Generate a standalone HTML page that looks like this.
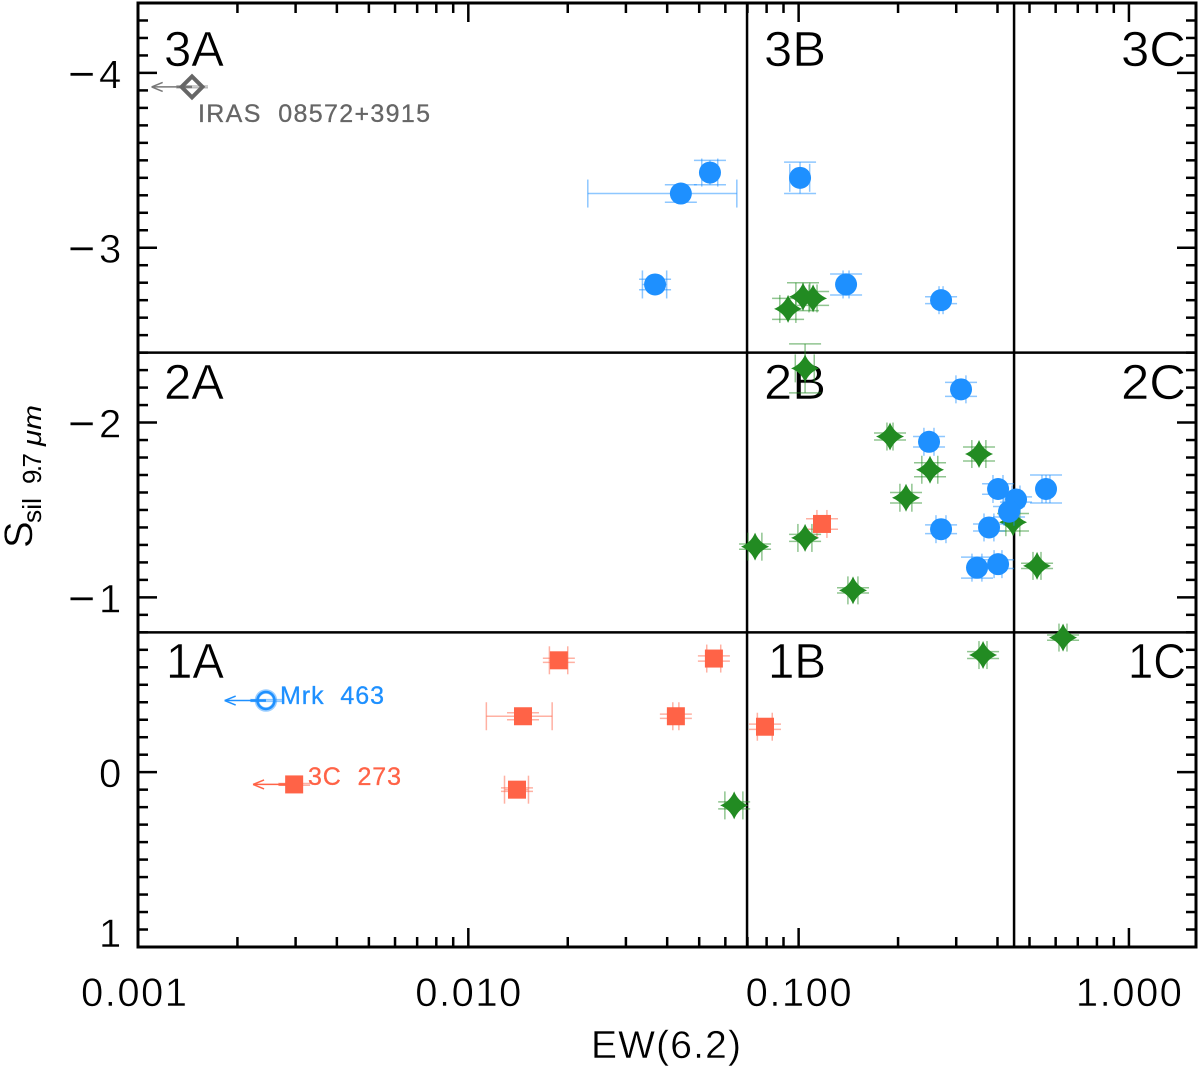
<!DOCTYPE html>
<html lang="en">
<head>
<meta charset="utf-8">
<title>Silicate strength versus EW(6.2)</title>
<style>
html,body{margin:0;padding:0;background:#fff;}
svg{display:block;font-family:"Liberation Sans",sans-serif;}
text{white-space:pre;}
</style>
</head>
<body>
<svg id="chart" xmlns="http://www.w3.org/2000/svg" width="1200" height="1069" viewBox="0 0 1200 1069">
  <rect x="0" y="0" width="1200" height="1069" fill="#fff"/>
  <g id="grid"></g>
  <g font-size="49" fill="#000" stroke="#fff" stroke-width="0.6">
    <text x="164" y="66" textLength="60" lengthAdjust="spacingAndGlyphs">3A</text>
    <text x="764" y="66" textLength="62" lengthAdjust="spacingAndGlyphs">3B</text>
    <text x="1121" y="66" textLength="65" lengthAdjust="spacingAndGlyphs">3C</text>
    <text x="164" y="399" textLength="60" lengthAdjust="spacingAndGlyphs">2A</text>
    <text x="764" y="399" textLength="62" lengthAdjust="spacingAndGlyphs">2B</text>
    <text x="1121" y="399" textLength="65" lengthAdjust="spacingAndGlyphs">2C</text>
    <text x="166" y="678" textLength="58" lengthAdjust="spacingAndGlyphs">1A</text>
    <text x="768" y="678" textLength="58" lengthAdjust="spacingAndGlyphs">1B</text>
    <text x="1128" y="678" textLength="58" lengthAdjust="spacingAndGlyphs">1C</text>
  </g>
  <g id="marks"></g>
  <g id="axes"></g>
  <g font-size="25">
    <text x="198" y="122" fill="#666" stroke="#666" stroke-width="0.3" textLength="232" lengthAdjust="spacing">IRAS  08572+3915</text>
    <text x="280" y="704" fill="#1E90FF" stroke="#1E90FF" stroke-width="0.3" textLength="104" lengthAdjust="spacing">Mrk  463</text>
    <text x="308" y="785" fill="#FF6347" stroke="#FF6347" stroke-width="0.3" textLength="93" lengthAdjust="spacing">3C  273</text>
  </g>
  <text x="591" y="1058" font-size="39" fill="#000" stroke="#fff" stroke-width="0.4" textLength="150" lengthAdjust="spacing">EW(6.2)</text>
  <g fill="#000">
    <text transform="translate(32,548) rotate(-90)" font-size="40" stroke="#fff" stroke-width="0.4">S</text>
    <text transform="translate(41,523) rotate(-90)" font-size="26" textLength="25" lengthAdjust="spacingAndGlyphs">sil</text>
    <text transform="translate(41,484) rotate(-90)" font-size="26" textLength="31" lengthAdjust="spacing">9.7</text>
    <text transform="translate(41,446) rotate(-90)" font-size="26" font-style="italic" textLength="41" lengthAdjust="spacingAndGlyphs">μm</text>
  </g>
</svg>
<script>
const xTickValues = [0.001, 0.01, 0.1, 1];
const xTickLabels = ["0.001", "0.010", "0.100", "1.000"];
const yTickValues = [-4, -3, -2, -1, 0, 1];
const yTickLabels = ["−4", "−3", "−2", "−1", "0", "1"];
const xDomain = [0.001, 1.596];
const yDomain = [1, -4.4];
const dividerEw = [0.0698, 0.449];
const dividerS = [-2.4, -0.8];

const blueEw = [0.044, 0.0539, 0.101, 0.03676, 0.1392, 0.2699, 0.3102, 0.2482, 0.4016, 0.4552, 0.561, 0.4335, 0.3771, 0.2699, 0.3468, 0.4016];
const blueS = [-3.31, -3.43, -3.40, -2.79, -2.79, -2.70, -2.19, -1.89, -1.62, -1.56, -1.62, -1.49, -1.40, -1.39, -1.17, -1.19];
const blueEwErr = [0.021, 0.003, 0.007, 0.0031, 0.0029, 0.0038, 0.0108, 0.0087, 0.014, 0.0127, 0.0156, 0.0151, 0.013, 0.0094, 0.012, 0.011];
const blueSErr = [0.05, 0.07, 0.09, 0.03, 0.06, 0.02, 0.04, 0.03, 0.03, 0.015, 0.08, 0.03, 0.02, 0.025, 0.06, 0.025];

const greenEw = [0.0929, 0.1031, 0.1106, 0.1046, 0.1891, 0.2499, 0.3517, 0.2114, 0.4457, 0.1046, 0.0738, 0.1461, 0.527, 0.6317, 0.3617, 0.0638];
const greenS = [-2.65, -2.72, -2.71, -2.31, -1.92, -1.73, -1.82, -1.57, -1.43, -1.34, -1.29, -1.04, -1.18, -0.77, -0.67, 0.19];
const greenEwErr = [0.0052, 0.005, 0.0031, 0.0069, 0.004, 0.0139, 0.0172, 0.0088, 0.0217, 0.0051, 0.0036, 0.0051, 0.0147, 0.0176, 0.0101, 0.004];
const greenSErr = [0.06, 0.08, 0.04, 0.14, 0.02, 0.04, 0.04, 0.03, 0.05, 0.02, 0.015, 0.015, 0.015, 0.015, 0.02, 0.02];

const redEw = [0.1177, 0.0554, 0.0425, 0.0791, 0.0188, 0.01464, 0.01404];
const redS = [-1.42, -0.65, -0.32, -0.26, -0.64, -0.32, 0.10];
const redEwErr = [0.0041, 0.0027, 0.0009, 0.0041, 0.0012, 0.0033, 0.00117];
const redSErr = [0.03, 0.015, 0.012, 0.015, 0.012, 0.02, 0.01];

const limitEw = [0.00244, 0.00297, 0.001457];
const limitS = [-0.41, 0.07, -3.92];
const limitArrowEw = [0.00183, 0.00223, 0.0011];
const limitSErr = [0.005, 0.005, 0.005];

const NS = "http://www.w3.org/2000/svg";
const plotLeft = 138, plotRight = 1196, plotTop = 3, plotBottom = 947;
const BLUE = "#1E90FF", GREEN = "#228B22", RED = "#FF6347", GREY = "#666666";

function xScale(v) {
  const a = Math.log10(xDomain[0]), b = Math.log10(xDomain[1]);
  return plotLeft + (Math.log10(v) - a) / (b - a) * (plotRight - plotLeft);
}
function yScale(v) {
  return plotBottom + (v - yDomain[0]) / (yDomain[1] - yDomain[0]) * (plotTop - plotBottom);
}
function make(tag, parent) {
  const el = document.createElementNS(NS, tag);
  parent.appendChild(el);
  return el;
}
function segment(parent, x1, y1, x2, y2, color, width, opacity) {
  const el = make("line", parent);
  el.setAttribute("x1", x1);
  el.setAttribute("y1", y1);
  el.setAttribute("x2", x2);
  el.setAttribute("y2", y2);
  el.setAttribute("stroke", color);
  el.setAttribute("stroke-width", width);
  if (opacity !== undefined) el.setAttribute("stroke-opacity", opacity);
  return el;
}
function errorBars(parent, ew, s, ewErr, sErr, color) {
  const capH = 14, capW = 16, op = 0.5, w = 1.5;
  const cx = xScale(ew), cy = yScale(s);
  const xl = xScale(ew - ewErr), xh = xScale(ew + ewErr);
  const yl = yScale(s - sErr), yh = yScale(s + sErr);
  segment(parent, xl, cy, xh, cy, color, w, op);
  segment(parent, cx, yl, cx, yh, color, w, op);
  segment(parent, xl, cy - capH, xl, cy + capH, color, w, op);
  segment(parent, xh, cy - capH, xh, cy + capH, color, w, op);
  segment(parent, cx - capW, yl, cx + capW, yl, color, w, op);
  segment(parent, cx - capW, yh, cx + capW, yh, color, w, op);
}
function circleMark(parent, cx, cy, color) {
  const el = make("circle", parent);
  el.setAttribute("cx", cx);
  el.setAttribute("cy", cy);
  el.setAttribute("r", 11);
  el.setAttribute("fill", color);
}
function squareMark(parent, cx, cy, color) {
  const el = make("rect", parent);
  el.setAttribute("x", cx - 9);
  el.setAttribute("y", cy - 9);
  el.setAttribute("width", 18);
  el.setAttribute("height", 18);
  el.setAttribute("fill", color);
}
function starMark(parent, cx, cy, color) {
  const r = 14, c = 4;
  const el = make("path", parent);
  el.setAttribute("d",
    "M" + cx + " " + (cy - r) +
    "Q" + (cx + c) + " " + (cy - c) + " " + (cx + r) + " " + cy +
    "Q" + (cx + c) + " " + (cy + c) + " " + cx + " " + (cy + r) +
    "Q" + (cx - c) + " " + (cy + c) + " " + (cx - r) + " " + cy +
    "Q" + (cx - c) + " " + (cy - c) + " " + cx + " " + (cy - r) + "Z");
  el.setAttribute("fill", color);
}
function drawSeries(ews, ss, ewErrs, sErrs, color, marker, groupName, pointName) {
  const marks = document.getElementById("marks");
  const group = make("g", marks);
  
  
  for (let i = 0; i < ews.length; i++) {
    const point = make("g", group);
    
    
    errorBars(point, ews[i], ss[i], ewErrs[i], sErrs[i], color);
    marker(point, xScale(ews[i]), yScale(ss[i]), color);
  }
}
function drawLimit(index, color, pointName) {
  const marks = document.getElementById("marks");
  const point = make("g", marks);
  
  
  const cx = xScale(limitEw[index]), cy = yScale(limitS[index]);
  const tip = xScale(limitArrowEw[index]);
  segment(point, cx - 16, yScale(limitS[index] - limitSErr[index]), cx + 16, yScale(limitS[index] - limitSErr[index]), color, 1.5, 0.5);
  segment(point, cx - 16, yScale(limitS[index] + limitSErr[index]), cx + 16, yScale(limitS[index] + limitSErr[index]), color, 1.5, 0.5);
  segment(point, tip, cy, cx, cy, color, 1.5);
  segment(point, tip, cy, tip + 11, cy - 4.5, color, 1.5);
  segment(point, tip, cy, tip + 11, cy + 4.5, color, 1.5);
  segment(point, cx - 15, cy, cx, cy, color, 2.5);
  return { point: point, cx: cx, cy: cy };
}

/* quadrant divider lines */
const grid = document.getElementById("grid");
for (const v of dividerEw) {
  const line = segment(grid, xScale(v), plotTop, xScale(v), plotBottom, "#000", 2.5);
  
  
}
for (const v of dividerS) {
  const line = segment(grid, plotLeft, yScale(v), plotRight, yScale(v), "#000", 2.5);
  
  
}

/* series */
drawSeries(redEw, redS, redEwErr, redSErr, RED, squareMark, "red-series", "red-square-point");
drawSeries(greenEw, greenS, greenEwErr, greenSErr, GREEN, starMark, "green-series", "green-star-point");
drawSeries(blueEw, blueS, blueEwErr, blueSErr, BLUE, circleMark, "blue-series", "blue-circle-point");

/* upper limits */
const mrk = drawLimit(0, BLUE, "mrk-463-upper-limit");
const mrkHalo = make("circle", mrk.point);
mrkHalo.setAttribute("cx", mrk.cx);
mrkHalo.setAttribute("cy", mrk.cy);
mrkHalo.setAttribute("r", 9);
mrkHalo.setAttribute("fill", "none");
mrkHalo.setAttribute("stroke", BLUE);
mrkHalo.setAttribute("stroke-opacity", "0.45");
mrkHalo.setAttribute("stroke-width", "4.5");
const mrkRing = make("circle", mrk.point);
mrkRing.setAttribute("cx", mrk.cx);
mrkRing.setAttribute("cy", mrk.cy);
mrkRing.setAttribute("r", 8.5);
mrkRing.setAttribute("fill", "none");
mrkRing.setAttribute("stroke", BLUE);
mrkRing.setAttribute("stroke-width", "2.5");

const qso = drawLimit(1, RED, "3c-273-upper-limit");
squareMark(qso.point, qso.cx, qso.cy, RED);

const iras = drawLimit(2, "#777777", "iras-08572-upper-limit");
const diamond = make("path", iras.point);
diamond.setAttribute("d", "M" + iras.cx + " " + (iras.cy - 10.5) + "L" + (iras.cx + 10.5) + " " + iras.cy + "L" + iras.cx + " " + (iras.cy + 10.5) + "L" + (iras.cx - 10.5) + " " + iras.cy + "Z");
diamond.setAttribute("fill", "none");
diamond.setAttribute("stroke", GREY);
diamond.setAttribute("stroke-width", "4");

/* axes */
const axes = document.getElementById("axes");
const frame = make("rect", axes);


frame.setAttribute("x", plotLeft);
frame.setAttribute("y", plotTop);
frame.setAttribute("width", plotRight - plotLeft);
frame.setAttribute("height", plotBottom - plotTop);
frame.setAttribute("fill", "none");
frame.setAttribute("stroke", "#000");
frame.setAttribute("stroke-width", "3");

const MAJOR_LEN = 19, MINOR_LEN = 10;
for (let decade = -3; decade <= 0; decade++) {
  for (let m = 1; m <= 9; m++) {
    const v = m * Math.pow(10, decade);
    if (v > xDomain[1] || v <= xDomain[0]) continue;
    const len = m === 1 ? MAJOR_LEN : MINOR_LEN;
    const x = xScale(v);
    const bottomTick = segment(axes, x, plotBottom, x, plotBottom - len, "#000", 2.5);
    
    
    const topTick = segment(axes, x, plotTop, x, plotTop + len, "#000", 2.5);
    
    
  }
}
for (let k = -44; k <= 10; k++) {
  const v = k / 10;
  const len = k % 10 === 0 ? MAJOR_LEN : MINOR_LEN;
  const y = yScale(v);
  const leftTick = segment(axes, plotLeft, y, plotLeft + len, y, "#000", 2.5);
  
  
  const rightTick = segment(axes, plotRight, y, plotRight - len, y, "#000", 2.5);
  
  
}
xTickValues.forEach(function (v, i) {
  const label = make("text", axes);
  
  
  label.setAttribute("x", xScale(v) + (i === 0 ? -57 : -53));
  label.setAttribute("y", 1006);
  label.setAttribute("font-size", "40");
  label.setAttribute("stroke", "#fff");
  label.setAttribute("stroke-width", "0.5");
  label.setAttribute("textLength", "106");
  label.setAttribute("lengthAdjust", "spacing");
  label.textContent = xTickLabels[i];
});
yTickValues.forEach(function (v, i) {
  const label = make("text", axes);
  
  
  const text = yTickLabels[i];
  const baseline = v === yDomain[0] ? plotBottom : yScale(v) + 15;
  label.setAttribute("y", baseline);
  label.setAttribute("font-size", "40");
  label.setAttribute("stroke", "#fff");
  label.setAttribute("stroke-width", "0.5");
  if (v < 0) {
    label.setAttribute("x", 68);
    const minusPart = make("tspan", label);
    minusPart.setAttribute("font-size", "47");
    minusPart.setAttribute("y", baseline + 2);
    minusPart.textContent = text.charAt(0);
    const digitPart = make("tspan", label);
    digitPart.setAttribute("x", 99);
    digitPart.setAttribute("y", baseline);
    digitPart.textContent = text.slice(1);
  } else {
    label.setAttribute("x", 99);
    label.textContent = text;
  }
});
</script>
</body>
</html>
